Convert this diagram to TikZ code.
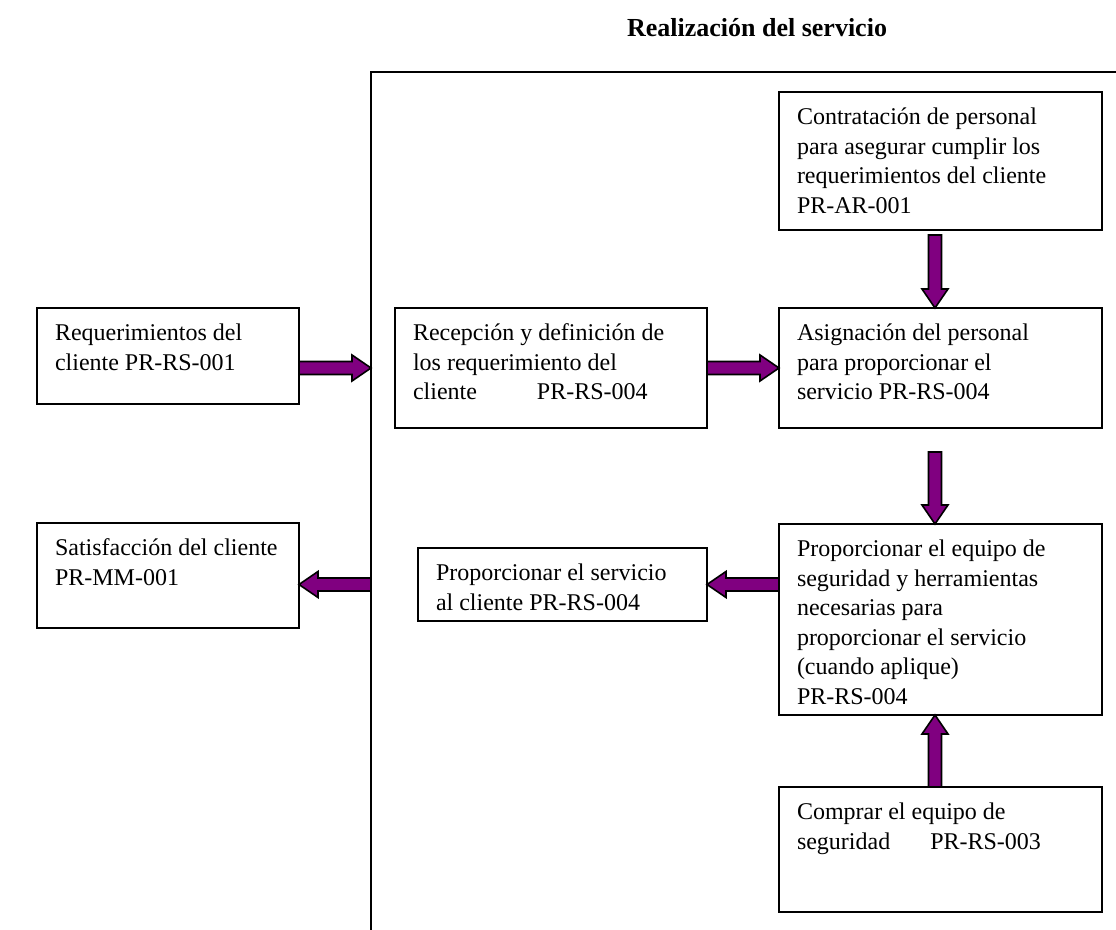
\documentclass[tikz,border=0pt]{standalone}
\usepackage{fontspec}
\setmainfont{Liberation Serif}
\usetikzlibrary{calc}
\definecolor{arrowfill}{RGB}{128,0,128}
% box text: width, height of the box (outer), text set from the top
\newcommand\bx[3]{\parbox[t][\dimexpr#2-12pt\relax][t]{\dimexpr#1-18pt\relax}{\raggedright\strut#3}}
% block arrow from #1 to #2
\newcommand\barrow[2]{%
  \path[blockarrow] let \p1=(#1), \p2=(#2),
    \n1={atan2(\y2-\y1,\x2-\x1)}, \n2={veclen(\x2-\x1,\y2-\y1)},
    \n3={\n2-9.5pt} in
    [shift={(\p1)}, rotate=\n1]
    (0pt,-3.25pt) -- (\n3,-3.25pt) -- (\n3,-6.5pt)
    -- (\n2,0pt) -- (\n3,6.5pt) -- (\n3,3.25pt)
    -- (0pt,3.25pt) -- cycle;}
\begin{document}
\begin{tikzpicture}[x=0.5pt,y=-0.5pt,
  box/.style={draw, line width=1pt, anchor=north west, inner xsep=9pt,
    inner ysep=6pt, outer sep=0pt, font=\fontsize{12}{14.75}\selectfont},
  blockarrow/.style={draw, line width=0.8pt, fill=arrowfill, line join=miter}]
\useasboundingbox (0,0) rectangle (1116,930);

\node[font=\bfseries\fontsize{13}{15}\selectfont] (title) at (757,28) {Realización del servicio};

% process frame
\draw[line width=1pt] (371,930) -- (371,72) -- (1116,72);

\node[box] (b1) at (37,308) {\bx{131pt}{48pt}{Requerimientos del\\cliente PR-RS-001}};
\node[box] (b2) at (37,523) {\bx{131pt}{52.5pt}{Satisfacción del cliente\\PR-MM-001}};
\node[box] (b3) at (395,308) {\bx{156pt}{60pt}{Recepción y definición de\\los requerimiento del\\cliente\hspace{30pt}PR-RS-004}};
\node[box] (b4) at (779,92) {\bx{161.5pt}{69pt}{Contratación de personal\\para asegurar cumplir los\\requerimientos del cliente\\PR-AR-001}};
\node[box] (b5) at (779,308) {\bx{161.5pt}{60pt}{Asignación del personal\\para proporcionar el\\servicio PR-RS-004}};
\node[box] (b6) at (779,524) {\bx{161.5pt}{95.5pt}{Proporcionar el equipo de\\seguridad y herramientas\\necesarias para\\proporcionar el servicio\\(cuando aplique)\\PR-RS-004}};
\node[box] (b7) at (418,548) {\bx{144.5pt}{36.5pt}{Proporcionar el servicio\\al cliente PR-RS-004}};
\node[box] (b8) at (779,787) {\bx{161.5pt}{62.5pt}{Comprar el equipo de\\seguridad\hspace{20pt}PR-RS-003}};

% points where arrows meet the frame
\coordinate (f1) at (371,368);
\coordinate (f2) at (371,584.5);

\barrow{b1.east |- f1}{f1}
\barrow{b3.east}{b5.west}
\barrow{[xshift=-2.75pt,yshift=-2.5pt]b4.south}{[xshift=-2.75pt]b5.north}
\barrow{[xshift=-2.75pt,yshift=-12pt]b5.south}{[xshift=-2.75pt]b6.north}
\barrow{[xshift=-2.75pt]b8.north}{[xshift=-2.75pt]b6.south}
\barrow{b6.west |- b7.east}{b7.east}
\barrow{f2}{b2.east |- f2}
\end{tikzpicture}
\end{document}
